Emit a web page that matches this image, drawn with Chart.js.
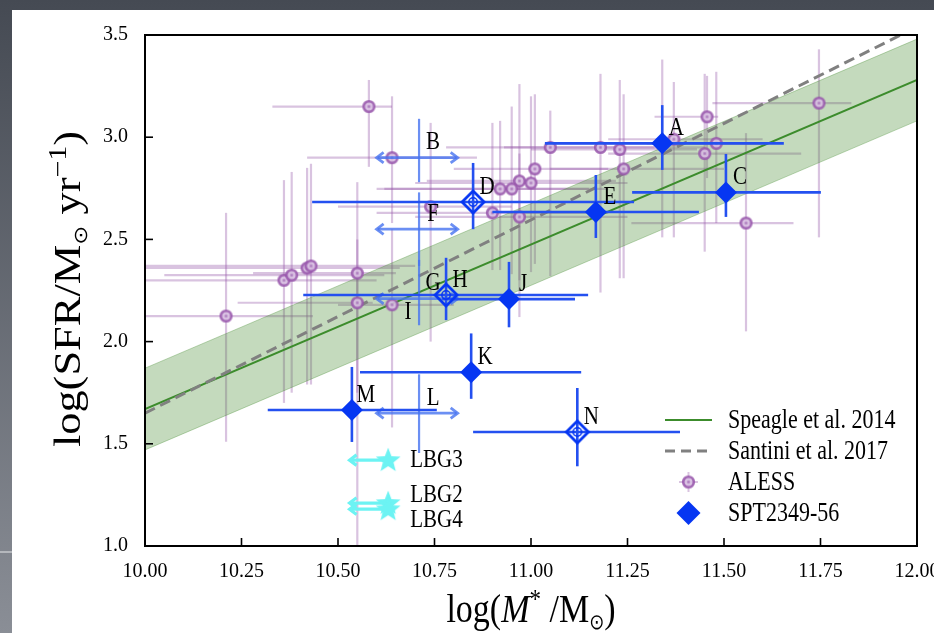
<!DOCTYPE html>
<html><head><meta charset="utf-8">
<script src="https://cdn.jsdelivr.net/npm/chart.js@4.4.1/dist/chart.umd.min.js"></script>
<style>html,body{margin:0;padding:0;background:#fff;overflow:hidden}canvas{display:block}</style>
</head><body>
<canvas id="c" width="934" height="633" style="width:934px;height:633px"></canvas>
<script>
// ---------- data ----------
const xTickValues = [10.00, 10.25, 10.50, 10.75, 11.00, 11.25, 11.50, 11.75, 12.00];
const yTickValues = [1.0, 1.5, 2.0, 2.5, 3.0, 3.5];

const msX = [10, 12];
const speagleY = [1.67, 3.28];
const speagleUpperY = [1.87, 3.48];
const speagleLowerY = [1.47, 3.08];
const santiniY = [1.65, 3.54];

const alessX   = [10.58, 10.64, 10.21, 10.36, 10.38, 10.42, 10.43, 10.55, 10.55, 10.64, 11.05, 11.18, 11.23, 11.24, 11.01, 10.97, 11.00, 10.95, 10.92, 10.90, 10.97, 10.74, 11.34, 11.37, 11.456, 11.48, 11.45, 11.746, 11.557];
const alessY   = [3.15, 2.90, 2.125, 2.30, 2.325, 2.36, 2.37, 2.335, 2.19, 2.18, 2.95, 2.95, 2.94, 2.845, 2.845, 2.786, 2.776, 2.747, 2.747, 2.63, 2.61, 2.66, 2.97, 2.99, 3.10, 2.97, 2.92, 3.167, 2.58];
const alessXLo = [10.33, 10.42, 9.95, 9.95, 10.05, 9.90, 9.98, 10.28, 10.24, 10.50, 10.78, 10.93, 11.00, 11.05, 10.80, 10.73, 10.70, 10.62, 10.60, 10.60, 10.70, 10.50, 11.05, 11.20, 11.32, 11.30, 11.20, 11.47, 11.26];
const alessXHi = [10.64, 10.86, 10.435, 10.60, 10.62, 10.66, 10.70, 10.65, 10.59, 10.80, 11.32, 11.45, 11.43, 11.50, 11.20, 11.22, 11.25, 11.20, 11.15, 11.20, 11.25, 10.95, 11.60, 11.60, 11.485, 11.60, 11.70, 11.83, 11.68];
const alessYLo = [2.855, 2.58, 1.51, 1.70, 1.75, 1.79, 1.79, 1.75, 0.90, 1.58, 2.32, 2.24, 2.31, 2.31, 2.38, 2.12, 2.34, 2.33, 2.35, 2.35, 2.30, 2.00, 2.51, 2.51, 2.80, 2.58, 2.44, 2.51, 2.05];
const alessYHi = [3.28, 3.20, 2.63, 2.79, 2.83, 2.85, 2.87, 2.78, 2.50, 2.55, 3.13, 3.31, 3.28, 3.21, 3.21, 3.26, 3.20, 3.15, 3.08, 3.07, 2.92, 3.07, 3.38, 3.27, 3.30, 3.32, 3.31, 3.43, 3.02];

const sptNames = ['A', 'C', 'D', 'E', 'H', 'J', 'K', 'M', 'N'];
const sptX   = [11.34, 11.505, 10.85, 11.168, 10.78, 10.943, 10.845, 10.536, 11.12];
const sptY   = [2.97, 2.73, 2.683, 2.634, 2.228, 2.208, 1.85, 1.665, 1.558];
const sptXLo = [11.036, 11.262, 10.433, 10.90, 10.41, 10.77, 10.557, 10.318, 10.85];
const sptXHi = [11.655, 11.751, 11.267, 11.435, 11.148, 11.114, 11.13, 10.756, 11.386];
const sptYLo = [2.84, 2.61, 2.55, 2.507, 2.105, 2.07, 1.72, 1.509, 1.39];
const sptYHi = [3.157, 2.918, 2.874, 2.815, 2.41, 2.39, 2.04, 1.876, 1.773];
const sptOpen = [false, false, true, false, true, false, false, false, true];

const limitNames = ['B', 'F', 'G', 'L'];
const limitX   = [10.71, 10.71, 10.71, 10.71];
const limitY   = [2.90, 2.55, 2.21, 1.65];
const limitXLo = [10.60, 10.60, 10.60, 10.60];
const limitXHi = [10.81, 10.81, 10.81, 10.81];
const limitYLo = [2.78, 2.37, 2.08, 1.455];
const limitYHi = [3.09, 2.73, 2.40, 1.84];

const labelOnlyNames = ['I'];
const labelOnlyX = [10.645];
const labelOnlyY = [2.07];

const lbgNames = ['LBG3', 'LBG2', 'LBG4'];
const lbgX = [10.63, 10.63, 10.63];
const lbgY = [1.42, 1.21, 1.18];
const lbgXLimit = [10.53, 10.53, 10.53];

const legendLabels = ['Speagle et al. 2014', 'Santini et al. 2017', 'ALESS', 'SPT2349-56'];

// ---------- styles ----------
const SERIF = '"Liberation Serif", "DejaVu Serif", serif';
const STRETCH = 1.2;
const GREEN = '#3c8c2c';
const BAND_FILL = 'rgba(70,140,50,0.32)';
const BAND_EDGE = 'rgba(70,140,50,0.35)';
const GREY = '#808080';
const PURPLE_ERR = 'rgba(150,90,170,0.36)';
const BLUE = '#0636f2';
const BLUE_ERR = '#2450f0';
const BLUE_LIM = 'rgba(70,115,240,0.8)';
const CYAN = '#6cf3f3';
const lbgLabelDy = [0, -8, 11];

function makeCanvas(w, h, fn) { const c = document.createElement('canvas'); c.width = w; c.height = h; fn(c.getContext('2d'), w, h); return c; }
const alessMarker = makeCanvas(15, 15, (g) => {
  g.beginPath(); g.arc(7.5, 7.5, 5.3, 0, Math.PI * 2);
  g.fillStyle = 'rgba(215,190,225,0.9)'; g.fill();
  g.lineWidth = 2.6; g.strokeStyle = 'rgba(150,85,170,0.85)'; g.stroke();
  g.fillStyle = 'rgba(160,105,180,0.8)'; g.fillRect(6.3, 6.3, 2.4, 2.4);
});
const openDiamond = makeCanvas(28, 28, (g) => {
  g.beginPath(); g.moveTo(14, 3); g.lineTo(25, 14); g.lineTo(14, 25); g.lineTo(3, 14); g.closePath();
  g.lineWidth = 2.8; g.strokeStyle = BLUE; g.stroke();
  g.beginPath(); g.arc(14, 14, 4.2, 0, Math.PI * 2); g.lineWidth = 1.6; g.stroke();
});
const starMarker = makeCanvas(30, 30, (g) => {
  g.beginPath();
  for (let i = 0; i < 10; i++) {
    const r = i % 2 === 0 ? 13 : 5.6; const a = -Math.PI / 2 + i * Math.PI / 5;
    const x = 15 + r * Math.cos(a), y = 15.5 + r * Math.sin(a);
    i === 0 ? g.moveTo(x, y) : g.lineTo(x, y);
  }
  g.closePath(); g.fillStyle = CYAN; g.fill();
});

const pts = (xs, ys) => xs.map((x, i) => ({ x: x, y: ys[i] }));
const filledIdx = sptX.map((_, i) => i).filter(i => !sptOpen[i]);
const openIdx = sptX.map((_, i) => i).filter(i => sptOpen[i]);

function hLine(ctx, x1, x2, y) { ctx.beginPath(); ctx.moveTo(x1, y); ctx.lineTo(x2, y); ctx.stroke(); }
function vLine(ctx, x, y1, y2) { ctx.beginPath(); ctx.moveTo(x, y1); ctx.lineTo(x, y2); ctx.stroke(); }
function chevron(ctx, x, y, dir, s) { ctx.beginPath(); ctx.moveTo(x - dir * s, y - s * 0.75); ctx.lineTo(x, y); ctx.lineTo(x - dir * s, y + s * 0.75); ctx.stroke(); }
function sText(ctx, t, x, y) { ctx.save(); ctx.translate(x, y); ctx.scale(1, STRETCH); ctx.fillText(t, 0, 0); ctx.restore(); }

function richText(ctx, segs) {
  let total = 0;
  segs.forEach(s => { ctx.font = s.f; s.w = ctx.measureText(s.t).width; total += s.w; });
  let x = -total / 2;
  segs.forEach(s => { ctx.font = s.f; ctx.fillText(s.t, x, (s.dy || 0)); x += s.w; });
}

const decor = {
  id: 'decor',
  beforeDraw(chart) {
    const ctx = chart.ctx; const W = chart.width, H = chart.height;
    const gr = ctx.createLinearGradient(0, 0, 0, H);
    gr.addColorStop(0, '#454a53'); gr.addColorStop(1, '#8a8e96');
    ctx.save(); ctx.fillStyle = gr; ctx.fillRect(0, 0, W, H);
    ctx.fillStyle = '#ffffff'; ctx.fillRect(12, 10, W - 12, H - 10);
    ctx.fillStyle = '#b4b7bc'; ctx.fillRect(0, 551, 12, 2);
    ctx.restore();
  },
  beforeDatasetsDraw(chart) {
    const ctx = chart.ctx, sx = chart.scales.x, sy = chart.scales.y, ca = chart.chartArea;
    ctx.save(); ctx.beginPath(); ctx.rect(ca.left, ca.top, ca.right - ca.left, ca.bottom - ca.top); ctx.clip();
    ctx.strokeStyle = PURPLE_ERR; ctx.lineWidth = 2.2;
    alessX.forEach((x, i) => {
      const px = sx.getPixelForValue(x), py = sy.getPixelForValue(alessY[i]);
      hLine(ctx, sx.getPixelForValue(alessXLo[i]), sx.getPixelForValue(alessXHi[i]), py);
      vLine(ctx, px, sy.getPixelForValue(alessYLo[i]), sy.getPixelForValue(alessYHi[i]));
    });
    ctx.restore();
  },
  beforeDatasetDraw(chart, args) {
    const ctx = chart.ctx, sx = chart.scales.x, sy = chart.scales.y;
    const name = chart.data.datasets[args.index].label;
    if (name === 'SPT2349-56') {
      ctx.save(); ctx.lineCap = 'butt';
      limitX.forEach((x, i) => {
        const px = sx.getPixelForValue(x), py = sy.getPixelForValue(limitY[i]);
        ctx.strokeStyle = BLUE_LIM; ctx.lineWidth = 2.2;
        vLine(ctx, px, sy.getPixelForValue(limitYLo[i]), sy.getPixelForValue(limitYHi[i]));
        ctx.lineWidth = 2.8;
        const x1 = sx.getPixelForValue(limitXLo[i]), x2 = sx.getPixelForValue(limitXHi[i]);
        hLine(ctx, x1 + 1, x2 - 1, py);
        chevron(ctx, x1, py, -1, 7); chevron(ctx, x2, py, 1, 7);
      });
      ctx.strokeStyle = BLUE_ERR; ctx.lineWidth = 2.6;
      sptX.forEach((x, i) => {
        const px = sx.getPixelForValue(x), py = sy.getPixelForValue(sptY[i]);
        hLine(ctx, sx.getPixelForValue(sptXLo[i]), sx.getPixelForValue(sptXHi[i]), py);
        vLine(ctx, px, sy.getPixelForValue(sptYLo[i]), sy.getPixelForValue(sptYHi[i]));
      });
      ctx.restore();
    }
    if (name === 'LBG') {
      ctx.save(); ctx.strokeStyle = CYAN; ctx.lineWidth = 3.2;
      lbgX.forEach((x, i) => {
        const py = sy.getPixelForValue(lbgY[i]);
        const x2 = sx.getPixelForValue(lbgXLimit[i]);
        hLine(ctx, x2 + 1, sx.getPixelForValue(x), py);
        chevron(ctx, x2, py, -1, 7);
      });
      ctx.restore();
    }
  },
  afterDatasetsDraw(chart) {
    const ctx = chart.ctx, sx = chart.scales.x, sy = chart.scales.y, ca = chart.chartArea;
    ctx.save();
    ctx.fillStyle = '#000'; ctx.font = '21px ' + SERIF; ctx.textAlign = 'center'; ctx.textBaseline = 'middle';
    const lab = (n, x, y) => sText(ctx, n, sx.getPixelForValue(x) + 14, sy.getPixelForValue(y) - 15);
    sptNames.forEach((n, i) => lab(n, sptX[i], sptY[i]));
    limitNames.forEach((n, i) => lab(n, limitX[i], limitY[i]));
    labelOnlyNames.forEach((n, i) => lab(n, labelOnlyX[i], labelOnlyY[i]));
    ctx.textAlign = 'left';
    lbgNames.forEach((n, i) => sText(ctx, n, sx.getPixelForValue(lbgX[i]) + 22, sy.getPixelForValue(lbgY[i]) + lbgLabelDy[i]));
    // frame
    ctx.strokeStyle = '#000'; ctx.lineWidth = 2;
    ctx.strokeRect(ca.left, ca.top, ca.right - ca.left, ca.bottom - ca.top);
    ctx.lineWidth = 1.6;
    xTickValues.forEach(v => { const p = sx.getPixelForValue(v); vLine(ctx, p, ca.bottom, ca.bottom - 8); });
    yTickValues.forEach(v => { const p = sy.getPixelForValue(v); hLine(ctx, ca.left, ca.left + 8, p); });
    // legend
    const lx = 665, ly = [420, 451, 482, 513];
    ctx.lineWidth = 2; ctx.strokeStyle = GREEN; hLine(ctx, lx, lx + 47, ly[0]);
    ctx.lineWidth = 3; ctx.strokeStyle = GREY; ctx.setLineDash([10, 6]); hLine(ctx, lx, lx + 47, ly[1]); ctx.setLineDash([]);
    ctx.strokeStyle = PURPLE_ERR; ctx.lineWidth = 2; hLine(ctx, lx + 14, lx + 33, ly[2]); vLine(ctx, lx + 23.5, ly[2] - 10, ly[2] + 10);
    ctx.drawImage(alessMarker, lx + 16, ly[2] - 7.5);
    ctx.beginPath(); ctx.moveTo(lx + 23.5, ly[3] - 12); ctx.lineTo(lx + 35.5, ly[3]); ctx.lineTo(lx + 23.5, ly[3] + 12); ctx.lineTo(lx + 11.5, ly[3]); ctx.closePath();
    ctx.fillStyle = BLUE; ctx.fill();
    ctx.fillStyle = '#000'; ctx.font = '22px ' + SERIF; ctx.textAlign = 'left'; ctx.textBaseline = 'middle';
    legendLabels.forEach((t, i) => sText(ctx, t, lx + 63, ly[i] + 1));
    // axis titles
    ctx.textBaseline = 'alphabetic'; ctx.textAlign = 'left';
    const F = 34;
    ctx.save();
    ctx.translate((ca.left + ca.right) / 2, 622); ctx.scale(1, STRETCH);
    richText(ctx, [
      { t: 'log(', f: F + 'px ' + SERIF },
      { t: 'M', f: 'italic ' + F + 'px ' + SERIF },
      { t: '*', f: '23px ' + SERIF, dy: -12 },
      { t: ' /M', f: F + 'px ' + SERIF },
      { t: '\u2299', f: '18px "DejaVu Sans"', dy: 6 },
      { t: ')', f: F + 'px ' + SERIF }
    ]);
    ctx.restore();
    const FY = 37;
    ctx.save();
    ctx.translate(80, 289); ctx.rotate(-Math.PI / 2); ctx.scale(STRETCH, 1);
    richText(ctx, [
      { t: 'log(SFR/M', f: FY + 'px ' + SERIF },
      { t: '\u2299', f: '19px "DejaVu Sans"', dy: 7 },
      { t: ' yr', f: FY + 'px ' + SERIF },
      { t: '\u22121', f: '25px ' + SERIF, dy: -14 },
      { t: ')', f: FY + 'px ' + SERIF }
    ]);
    ctx.restore();
    ctx.restore();
  }
};

new Chart(document.getElementById('c'), {
  type: 'scatter',
  data: {
    datasets: [
      { label: 'bandUpper', data: pts(msX, speagleUpperY), showLine: true, borderColor: BAND_EDGE, borderWidth: 1, pointRadius: 0, fill: false, order: 9 },
      { label: 'bandLower', data: pts(msX, speagleLowerY), showLine: true, borderColor: BAND_EDGE, borderWidth: 1, pointRadius: 0, fill: '-1', backgroundColor: BAND_FILL, order: 8 },
      { label: 'Speagle et al. 2014', data: pts(msX, speagleY), showLine: true, borderColor: GREEN, borderWidth: 2, pointRadius: 0, order: 7 },
      { label: 'Santini et al. 2017', data: pts(msX, santiniY), showLine: true, borderColor: GREY, borderWidth: 3, borderDash: [11, 6], pointRadius: 0, order: 6 },
      { label: 'ALESS', data: pts(alessX, alessY), pointStyle: alessMarker, pointRadius: 6, order: 5 },
      { label: 'SPT2349-56', data: filledIdx.map(i => ({ x: sptX[i], y: sptY[i] })), pointStyle: 'rectRot', pointRadius: 11, backgroundColor: BLUE, borderColor: BLUE, borderWidth: 0, order: 4 },
      { label: 'SPT2349-56 open', data: openIdx.map(i => ({ x: sptX[i], y: sptY[i] })), pointStyle: openDiamond, pointRadius: 12, order: 3 },
      { label: 'LBG', data: pts(lbgX, lbgY), pointStyle: starMarker, pointRadius: 13, order: 2 }
    ]
  },
  options: {
    responsive: false, animation: false, devicePixelRatio: 1,
    layout: { padding: { left: 0, right: 17, top: 35, bottom: 0 } },
    plugins: { legend: { display: false }, tooltip: { enabled: false } },
    scales: {
      x: {
        type: 'linear', min: 10, max: 12,
        afterBuildTicks: (s) => { s.ticks = xTickValues.map(v => ({ value: v })); },
        afterFit: (s) => { s.height = 87; s.paddingLeft = 0; s.paddingRight = 0; },
        ticks: { callback: (v) => Number(v).toFixed(2), color: '#000', font: { family: SERIF, size: 20 }, padding: 14, maxRotation: 0, autoSkip: false },
        grid: { display: false, drawTicks: false }, border: { display: false }
      },
      y: {
        type: 'linear', min: 1, max: 3.5,
        afterBuildTicks: (s) => { s.ticks = yTickValues.map(v => ({ value: v })); },
        afterFit: (s) => { s.width = 145; s.paddingTop = 0; s.paddingBottom = 0; },
        ticks: { callback: (v) => Number(v).toFixed(1), color: '#000', font: { family: SERIF, size: 20 }, padding: 17, autoSkip: false },
        grid: { display: false, drawTicks: false }, border: { display: false }
      }
    }
  },
  plugins: [decor]
});
</script>
</body></html>
